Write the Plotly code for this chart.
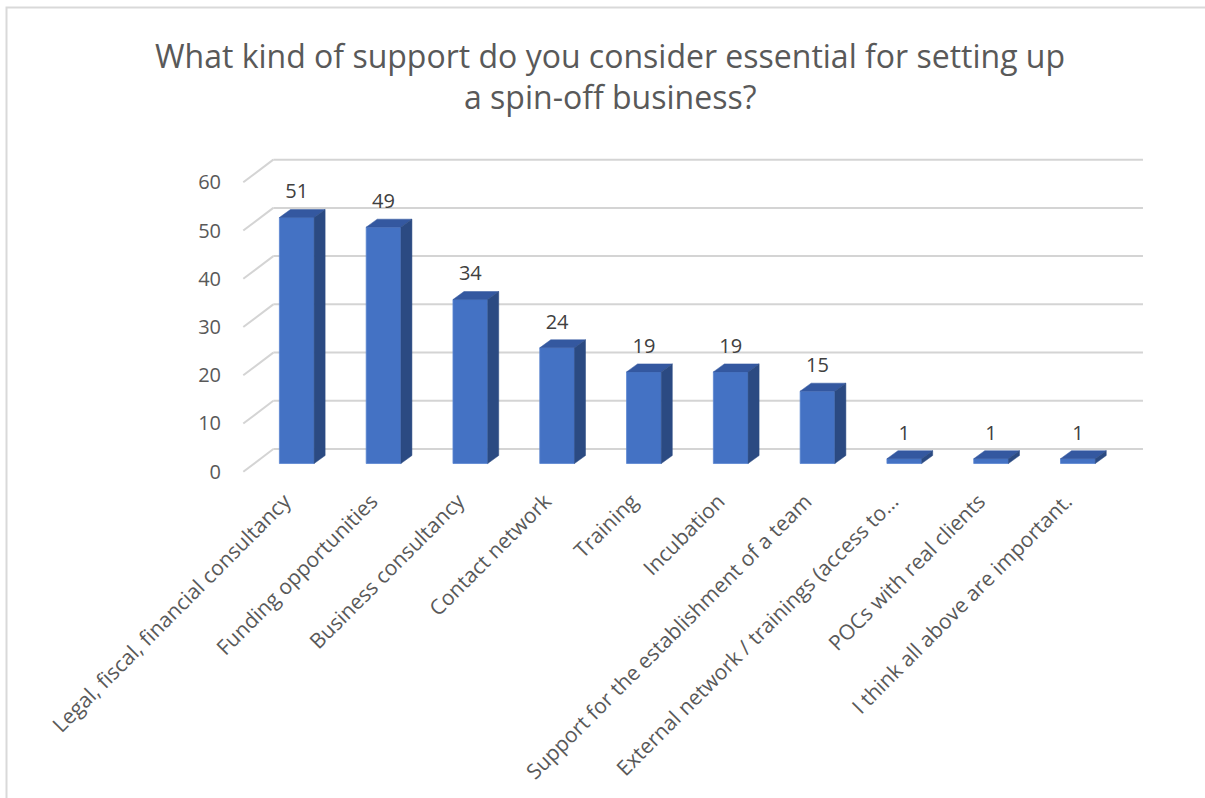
import plotly.graph_objects as go

# Survey answers and counts
categories = [
    "Legal, fiscal, financial consultancy",
    "Funding opportunities",
    "Business consultancy",
    "Contact network",
    "Training",
    "Incubation",
    "Support for the establishment of a team",
    "External network / trainings (access to…",
    "POCs with real clients",
    "I think all above are important.",
]
counts = [51, 49, 34, 24, 19, 19, 15, 1, 1, 1]
y_ticks = [0, 10, 20, 30, 40, 50, 60]
title_lines = [
    "What kind of support do you consider essential for setting up",
    "a spin-off business?",
]

# Canvas / plot-area geometry (pixels)
W_PX, H_PX = 1205, 798
M_L, M_R, M_T, M_B = 236, 49, 150, 320
X_RANGE = [-0.7, 9.9]
Y_RANGE = [-3, 65]

# Pseudo-3D depth in axis units
BAR_W = 0.40
DEPTH_X = 0.127      # horizontal shift of bar back face
DEPTH_Y = 1.66       # vertical shift of bar back face
FLOOR_FRONT = 1.7    # front edge of floor below bar base
FLOOR_BACK = 3.0     # back wall above bar base
WALL_X0 = -0.27      # back wall left edge
WALL_X1 = 9.75       # back wall right edge
FRONT_X = -0.616     # front edge of the side wall

FRONT_COLOR = "#4472C4"
TOP_COLOR = "#3458A0"
SIDE_COLOR = "#2B4A82"
GRID_COLOR = "#d4d4d4"
TEXT_COLOR = "#595959"
FONT = "Open Sans"

xs = list(range(len(categories)))

fig = go.Figure()

# Front faces of the columns
fig.add_trace(go.Bar(
    x=xs, y=counts, width=BAR_W,
    marker=dict(color=FRONT_COLOR, line=dict(color="#5b85d0", width=0.8)),
    hoverinfo="skip", showlegend=False,
))

# Top and side faces of each column
for x, v in zip(xs, counts):
    l, r = x - BAR_W / 2, x + BAR_W / 2
    fig.add_trace(go.Scatter(
        x=[l, r, r + DEPTH_X, l + DEPTH_X, l],
        y=[v, v, v + DEPTH_Y, v + DEPTH_Y, v],
        mode="lines", fill="toself", fillcolor=TOP_COLOR,
        line=dict(color=TOP_COLOR, width=0.5),
        hoverinfo="skip", showlegend=False,
    ))
    fig.add_trace(go.Scatter(
        x=[r, r + DEPTH_X, r + DEPTH_X, r, r],
        y=[0, DEPTH_Y, v + DEPTH_Y, v, 0],
        mode="lines", fill="toself", fillcolor=SIDE_COLOR,
        line=dict(color=SIDE_COLOR, width=0.5),
        hoverinfo="skip", showlegend=False,
    ))

# Value labels above the columns
fig.add_trace(go.Scatter(
    x=xs, y=[v + 5 for v in counts],
    mode="text", text=[str(v) for v in counts],
    textposition="middle center",
    textfont=dict(family=FONT, size=20, color="#404040"),
    hoverinfo="skip", showlegend=False,
))

# Back wall gridlines with their diagonal side-wall segments
shapes = []
for g in y_ticks:
    shapes.append(dict(type="line", xref="x", yref="y", layer="below",
                       x0=WALL_X0, x1=WALL_X1, y0=g + FLOOR_BACK, y1=g + FLOOR_BACK,
                       line=dict(color=GRID_COLOR, width=2)))
    shapes.append(dict(type="line", xref="x", yref="y", layer="below",
                       x0=FRONT_X, x1=WALL_X0, y0=g - FLOOR_FRONT, y1=g + FLOOR_BACK,
                       line=dict(color=GRID_COLOR, width=2)))

# Chart border
plot_w = W_PX - M_L - M_R
plot_h = H_PX - M_T - M_B
def px_to_paper_x(px):
    return (px - M_L) / plot_w
def px_to_paper_y(py):
    return 1 - (py - M_T) / plot_h
shapes.append(dict(type="rect", xref="paper", yref="paper", layer="below",
                   x0=px_to_paper_x(6.5), x1=px_to_paper_x(W_PX + 20),
                   y0=px_to_paper_y(H_PX + 20), y1=px_to_paper_y(7.5),
                   line=dict(color="#d9d9d9", width=2), fillcolor="rgba(0,0,0,0)"))

# Two-line chart title
annotations = []
for i, line in enumerate(title_lines):
    annotations.append(dict(
        text=line, xref="paper", yref="paper",
        x=px_to_paper_x(610), y=px_to_paper_y(56 + 41 * i),
        xanchor="center", yanchor="middle", showarrow=False,
        font=dict(family=FONT, size=32, color=TEXT_COLOR),
    ))

fig.update_layout(
    width=W_PX, height=H_PX,
    margin=dict(l=M_L, r=M_R, t=M_T, b=M_B, autoexpand=False),
    paper_bgcolor="white", plot_bgcolor="white",
    shapes=shapes, annotations=annotations,
    bargap=0.5,
    xaxis=dict(
        range=X_RANGE, tickmode="array", tickvals=xs, ticktext=categories,
        tickangle=-45, showgrid=False, zeroline=False, showline=False,
        ticks="", ticklabelstandoff=6, ticklabelshift=-12,
        tickfont=dict(family=FONT, size=21, color=TEXT_COLOR),
    ),
    yaxis=dict(
        range=Y_RANGE, tickmode="array",
        tickvals=[g - FLOOR_FRONT for g in y_ticks],
        ticktext=[str(g) for g in y_ticks],
        showgrid=False, zeroline=False, showline=False, ticks="",
        ticklabelstandoff=14,
        tickfont=dict(family=FONT, size=20, color=TEXT_COLOR),
    ),
)

fig.write_html("out.html", config={"displayModeBar": False})
